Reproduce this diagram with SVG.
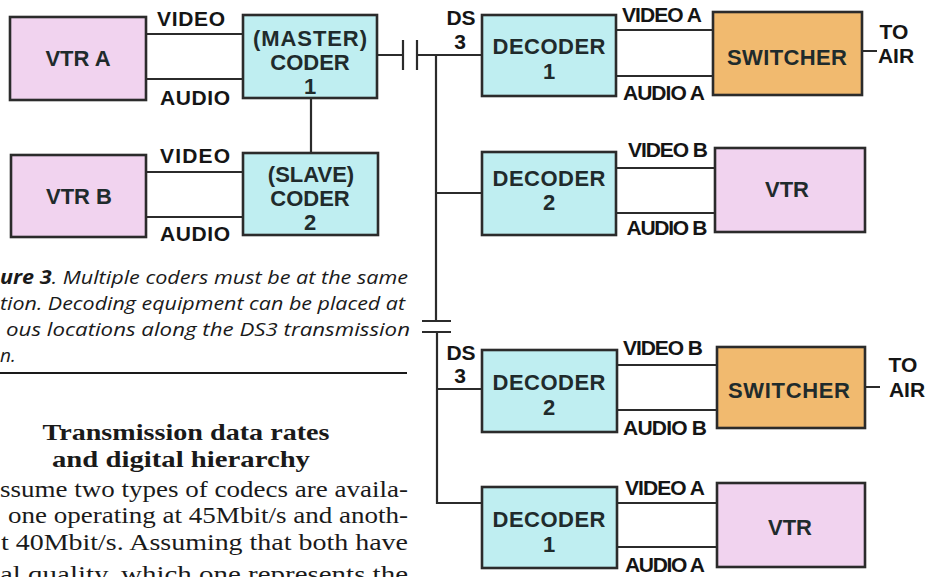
<svg xmlns="http://www.w3.org/2000/svg" width="928" height="577" viewBox="0 0 928 577">
<defs>
<style>
.box{stroke:#2b2b2b;stroke-width:2.6}
.vtr{fill:#f1d3ef}
.cod{fill:#bfeef1}
.sw{fill:#f1ba6f}
.bt{font-family:"Liberation Sans",Arial,sans-serif;font-weight:bold;font-size:22px;fill:#1f2b2c;text-anchor:middle}
.lb{font-family:"Liberation Sans",Arial,sans-serif;font-weight:bold;font-size:21px;fill:#151515;text-anchor:middle}
.cn{stroke:#2b2b2b;stroke-width:2.2;fill:none}
.cap{font-family:"Open Sans","Noto Sans",sans-serif;font-style:italic;font-size:19px;fill:#1a1a1a}
.hd{font-family:"Liberation Serif","Times New Roman",serif;font-weight:bold;font-size:23px;fill:#1a1a1a;text-anchor:middle}
.bd{font-family:"Liberation Serif","Times New Roman",serif;font-size:23px;fill:#1a1a1a}
</style>
</defs>
<rect width="928" height="577" fill="#ffffff"/>

<g id="connectors">
<path class="cn" d="M146 34H243M146 79H243M146 172H243M146 217H243M311 98V153"/>
<path class="cn" d="M377 55H403M417 55H482"/>
<path class="cn" stroke-width="3" d="M403 40V70M417 40V70"/>
<path class="cn" d="M436 55V321M436 193H482"/>
<path class="cn" stroke-width="2.6" d="M422 321H451M422 332H451"/>
<path class="cn" d="M437 332V503H482M437 389H482"/>
<path class="cn" d="M616 30H713M616 76H713M862 51H877"/>
<path class="cn" d="M616 168H715M616 213H715"/>
<path class="cn" d="M617 365H717M617 410H717M865 387H880"/>
<path class="cn" d="M617 503H717M617 547H717"/>
</g>

<g id="labels">
<text class="lb" x="191" y="26" textLength="68">VIDEO</text>
<text class="lb" x="195" y="105" textLength="70">AUDIO</text>
<text class="lb" x="195" y="163" textLength="70">VIDEO</text>
<text class="lb" x="195" y="241" textLength="70">AUDIO</text>
<text class="lb" x="461" y="25">DS</text>
<text class="lb" x="460" y="49">3</text>
<text class="lb" x="461" y="360">DS</text>
<text class="lb" x="460" y="383">3</text>
<text class="lb" x="662" y="22" textLength="80">VIDEO A</text>
<text class="lb" x="664" y="100" textLength="82">AUDIO A</text>
<text class="lb" x="668" y="157" textLength="80">VIDEO B</text>
<text class="lb" x="667" y="235" textLength="81">AUDIO B</text>
<text class="lb" x="663" y="355" textLength="80">VIDEO B</text>
<text class="lb" x="665" y="435" textLength="84">AUDIO B</text>
<text class="lb" x="665" y="495" textLength="80">VIDEO A</text>
<text class="lb" x="665" y="572" textLength="80">AUDIO A</text>
<text class="lb" x="894" y="39">TO</text>
<text class="lb" x="896" y="63">AIR</text>
<text class="lb" x="903" y="372">TO</text>
<text class="lb" x="907" y="397">AIR</text>
</g>

<g id="vtr-a"><rect class="box vtr" x="10" y="17" width="136" height="83"/><text class="bt" x="78" y="66">VTR A</text></g>
<g id="vtr-b"><rect class="box vtr" x="11" y="155" width="135" height="82"/><text class="bt" x="79" y="204">VTR B</text></g>
<g id="master-coder"><rect class="box cod" x="243" y="15" width="134" height="83"/>
<text class="bt" x="310" y="46" textLength="114">(MASTER)</text><text class="bt" x="310" y="70">CODER</text><text class="bt" x="310" y="94">1</text></g>
<g id="slave-coder"><rect class="box cod" x="243" y="153" width="135" height="82"/>
<text class="bt" x="311" y="182">(SLAVE)</text><text class="bt" x="310" y="206">CODER</text><text class="bt" x="310" y="230">2</text></g>

<g id="decoder1-top"><rect class="box cod" x="482" y="15" width="134" height="81"/>
<text class="bt" x="549" y="54" textLength="113">DECODER</text><text class="bt" x="549" y="79">1</text></g>
<g id="decoder2-top"><rect class="box cod" x="482" y="152" width="134" height="83"/>
<text class="bt" x="549" y="186" textLength="113">DECODER</text><text class="bt" x="549" y="210">2</text></g>
<g id="switcher-top"><rect class="box sw" x="713" y="12" width="149" height="83"/><text class="bt" x="787" y="65" textLength="120">SWITCHER</text></g>
<g id="vtr-top"><rect class="box vtr" x="715" y="148" width="150" height="84"/><text class="bt" x="787" y="197">VTR</text></g>

<g id="decoder2-bottom"><rect class="box cod" x="482" y="350" width="135" height="82"/>
<text class="bt" x="549" y="390" textLength="113">DECODER</text><text class="bt" x="549" y="415">2</text></g>
<g id="switcher-bottom"><rect class="box sw" x="717" y="347" width="148" height="81"/><text class="bt" x="789" y="398" textLength="122">SWITCHER</text></g>
<g id="decoder1-bottom"><rect class="box cod" x="482" y="487" width="135" height="81"/>
<text class="bt" x="549" y="527" textLength="113">DECODER</text><text class="bt" x="549" y="552">1</text></g>
<g id="vtr-bottom"><rect class="box vtr" x="717" y="483" width="148" height="84"/><text class="bt" x="790" y="535">VTR</text></g>

<g id="caption">
<text class="cap" x="0" y="284" textLength="408" lengthAdjust="spacingAndGlyphs"><tspan font-weight="bold">ure 3</tspan>. Multiple coders must be at the same</text>
<text class="cap" x="0" y="310" textLength="405" lengthAdjust="spacingAndGlyphs">tion. Decoding equipment can be placed at</text>
<text class="cap" x="6" y="336" textLength="404" lengthAdjust="spacingAndGlyphs">ous locations along the DS3 transmission</text>
<text class="cap" x="0" y="362">n.</text>
<line x1="0" y1="373" x2="407" y2="373" stroke="#1a1a1a" stroke-width="2"/>
</g>

<g id="body-text">
<text class="hd" x="186" y="440" textLength="287" lengthAdjust="spacingAndGlyphs">Transmission data rates</text>
<text class="hd" x="181" y="467" textLength="258" lengthAdjust="spacingAndGlyphs">and digital hierarchy</text>
<text class="bd" x="0" y="497" textLength="408" lengthAdjust="spacingAndGlyphs">ssume two types of codecs are availa-</text>
<text class="bd" x="8" y="523" textLength="400" lengthAdjust="spacingAndGlyphs">one operating at 45Mbit/s and anoth-</text>
<text class="bd" x="1" y="550" textLength="407" lengthAdjust="spacingAndGlyphs">t 40Mbit/s. Assuming that both have</text>
<text class="bd" x="0" y="582" textLength="408" lengthAdjust="spacingAndGlyphs">al quality, which one represents the</text>
</g>
</svg>
